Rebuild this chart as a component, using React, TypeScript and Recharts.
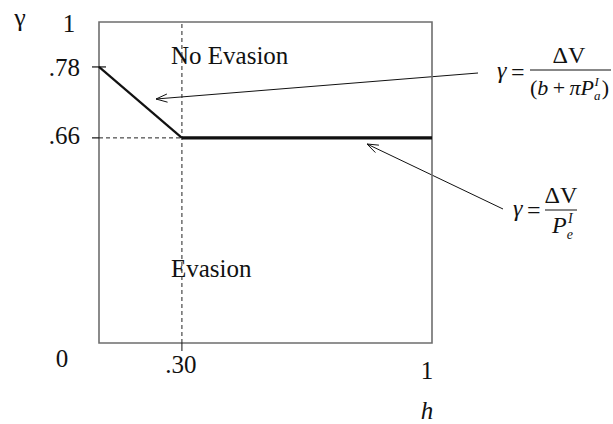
import React from "react";
import {
  LineChart,
  Line,
  XAxis,
  YAxis,
  ReferenceLine,
  ReferenceArea,
} from "recharts";

// values
const hPoints = [0, 0.3, 1];
const gammaPoints = [0.78, 0.66, 0.66];
const xTicks = [0.3, 1];
const xTickLabels = [".30", "1"];
const yTicks = [0, 0.66, 0.78, 1];
const yTickLabels = ["0", ".66", ".78", "1"];
const regionLabels = ["No Evasion", "Evasion"];

// the figure is schematic: the axes are stretched piecewise, not linear
const xStops = [0, 0.3, 1];
const xFracs = [0, 0.249, 1];
const yStops = [0, 0.66, 0.78, 1];
const yFracs = [0, 0.639, 0.86, 1];

const slopeData = hPoints.slice(0, 2).map((h, i) => ({ h, g: gammaPoints[i] }));
const flatData = hPoints.slice(1).map((h, i) => ({ h, g: gammaPoints[i + 1] }));

const FONT = "'Liberation Serif', 'Times New Roman', serif";
const INK = "#111";

function piecewiseScale(stops: number[], fracs: number[]): any {
  let dom = [stops[0], stops[stops.length - 1]];
  let rng = [0, 1];
  const scale: any = (v: number) => {
    let i = 0;
    while (i < stops.length - 2 && v > stops[i + 1]) i++;
    const t = (v - stops[i]) / (stops[i + 1] - stops[i]);
    const f = fracs[i] + t * (fracs[i + 1] - fracs[i]);
    return rng[0] + f * (rng[1] - rng[0]);
  };
  scale.domain = (d?: number[]) => {
    if (d === undefined) return dom;
    dom = [...d];
    return scale;
  };
  scale.range = (r?: number[]) => {
    if (r === undefined) return rng;
    rng = [...r];
    return scale;
  };
  scale.invert = (p: number) => {
    const f = (p - rng[0]) / (rng[1] - rng[0]);
    let i = 0;
    while (i < fracs.length - 2 && f > fracs[i + 1]) i++;
    const t = (f - fracs[i]) / (fracs[i + 1] - fracs[i]);
    return stops[i] + t * (stops[i + 1] - stops[i]);
  };
  scale.ticks = () => stops.slice();
  scale.copy = () => piecewiseScale(stops, fracs).domain(dom).range(rng);
  return scale;
}

const xScale = piecewiseScale(xStops, xFracs);
const yScale = piecewiseScale(yStops, yFracs);

// label placement relative to the tick anchor: [dx, dy, anchor]
const yLabelPos: Record<string, [number, number, string]> = {
  "0": [-37, 24, "middle"],
  ".66": [-19, 6, "end"],
  ".78": [-19, 9, "end"],
  "1": [-30, 10, "middle"],
};
const xLabelPos: Record<string, [number, number]> = {
  ".30": [-1, 30],
  "1": [-5, 36],
};

const YTick = (props: any) => {
  const { x, y, payload } = props;
  const label = yTickLabels[yTicks.indexOf(payload.value)];
  const [dx, dy, anchor] = yLabelPos[label];
  const hasLine = label === ".66" || label === ".78";
  return (
    <g>
      {hasLine && (
        <line
          x1={x - 7}
          x2={label === ".78" ? x + 7 : x}
          y1={y}
          y2={y}
          stroke={INK}
          strokeWidth={1.2}
        />
      )}
      <text
        x={x + dx}
        y={y + dy}
        textAnchor={anchor as any}
        fontFamily={FONT}
        fontSize={25}
        fill={INK}
      >
        {label}
      </text>
    </g>
  );
};

const XTick = (props: any) => {
  const { x, y, payload } = props;
  const label = xTickLabels[xTicks.indexOf(payload.value)];
  const [dx, dy] = xLabelPos[label];
  return (
    <g>
      {label === ".30" && (
        <line x1={x} x2={x} y1={y} y2={y + 8} stroke={INK} strokeWidth={1} />
      )}
      <text
        x={x + dx}
        y={y + dy}
        textAnchor="middle"
        fontFamily={FONT}
        fontSize={25}
        fill={INK}
      >
        {label}
      </text>
    </g>
  );
};

function Arrow({ x1, y1, x2, y2 }: { x1: number; y1: number; x2: number; y2: number }) {
  const len = Math.hypot(x2 - x1, y2 - y1);
  const ux = (x2 - x1) / len;
  const uy = (y2 - y1) / len;
  const head = 12;
  const a = (20 * Math.PI) / 180;
  const wing = (s: number) => {
    const c = Math.cos(s * a);
    const sn = Math.sin(s * a);
    const rx = ux * c - uy * sn;
    const ry = ux * sn + uy * c;
    return `${x2 - head * rx},${y2 - head * ry}`;
  };
  return (
    <g stroke={INK} strokeWidth={1} fill="none">
      <line x1={x1} y1={y1} x2={x2} y2={y2} />
      <polyline points={`${wing(1)} ${x2},${y2} ${wing(-1)}`} />
    </g>
  );
}

export default function App() {
  return (
    <div
      style={{
        position: "absolute",
        left: 0,
        top: 0,
        width: 613,
        height: 424,
        background: "#fff",
        fontFamily: FONT,
      }}
    >
      <LineChart
        width={613}
        height={424}
        margin={{ top: 22, right: 181, bottom: 0, left: 0 }}
      >
        <XAxis
          dataKey="h"
          type="number"
          domain={[0, 1]}
          scale={xScale}
          ticks={xTicks}
          interval={0}
          height={81}
          tickSize={0}
          tickMargin={0}
          axisLine={false}
          tickLine={false}
          tick={<XTick />}
        />
        <YAxis
          dataKey="g"
          type="number"
          domain={[0, 1]}
          scale={yScale}
          ticks={yTicks}
          interval={0}
          width={99}
          tickSize={0}
          tickMargin={0}
          axisLine={false}
          tickLine={false}
          tick={<YTick />}
        />
        <ReferenceArea
          x1={0}
          x2={1}
          y1={0}
          y2={1}
          fill="none"
          fillOpacity={0}
          stroke="#6e6e6e"
          strokeWidth={1.6}
        />
        <ReferenceLine
          x={hPoints[1]}
          stroke="#222"
          strokeWidth={1}
          strokeDasharray="4 3"
        />
        <ReferenceLine
          segment={[
            { x: 0, y: gammaPoints[1] },
            { x: hPoints[1], y: gammaPoints[1] },
          ]}
          stroke="#222"
          strokeWidth={1}
          strokeDasharray="4 3"
        />
        <Line
          data={slopeData}
          dataKey="g"
          stroke={INK}
          strokeWidth={2.2}
          dot={false}
          isAnimationActive={false}
        />
        <Line
          data={flatData}
          dataKey="g"
          stroke={INK}
          strokeWidth={3.4}
          dot={false}
          isAnimationActive={false}
        />

        <g fontFamily={FONT} fill={INK}>
          <text x={20} y={26} fontSize={26} textAnchor="middle">
            γ
          </text>
          <text x={427} y={419} fontSize={25} fontStyle="italic" textAnchor="middle">
            h
          </text>
          <text x={171} y={64} fontSize={25}>
            {regionLabels[0]}
          </text>
          <text x={171} y={277} fontSize={25}>
            {regionLabels[1]}
          </text>

          {/* first formula */}
          <text x={497} y={78} fontSize={24} fontStyle="italic">
            γ
          </text>
          <text x={511} y={80} fontSize={24}>
            =
          </text>
          <line x1={530} x2={611} y1={70} y2={70} stroke={INK} strokeWidth={1} />
          <text x={569} y={63} fontSize={24} textAnchor="middle">
            ΔV
          </text>
          <text x={530} y={95} fontSize={22}>
            <tspan>(</tspan>
            <tspan fontStyle="italic">b</tspan>
            <tspan>{"\u2009+\u2009"}</tspan>
            <tspan fontStyle="italic">πP</tspan>
            <tspan fontStyle="italic" fontSize={13} dy={5}>
              a
            </tspan>
            <tspan fontStyle="italic" fontSize={13} dx={-6} dy={-14}>
              I
            </tspan>
            <tspan dy={9} dx={3}>)</tspan>
          </text>

          {/* second formula */}
          <text x={513} y={216} fontSize={24} fontStyle="italic">
            γ
          </text>
          <text x={527} y={218} fontSize={24}>
            =
          </text>
          <line x1={545} x2={577} y1={210} y2={210} stroke={INK} strokeWidth={1} />
          <text x={561} y={203} fontSize={24} textAnchor="middle">
            ΔV
          </text>
          <text x={552} y={233} fontSize={24}>
            <tspan fontStyle="italic">P</tspan>
            <tspan fontStyle="italic" fontSize={14} dy={6}>
              e
            </tspan>
            <tspan fontStyle="italic" fontSize={14} dx={-5} dy={-16}>
              I
            </tspan>
          </text>
        </g>

        <Arrow x1={478} y1={73} x2={156} y2={99} />
        <Arrow x1={503} y1={209} x2={367} y2={144} />
      </LineChart>
    </div>
  );
}
